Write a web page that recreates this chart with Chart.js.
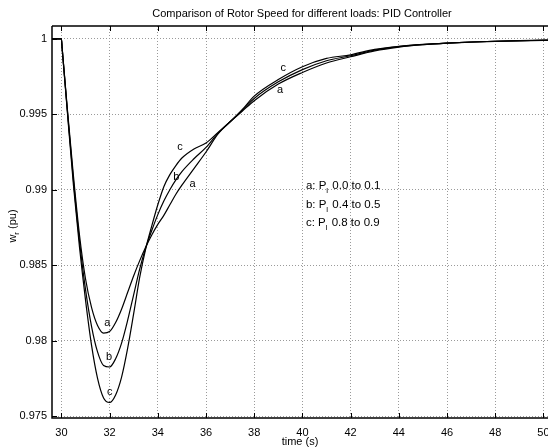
<!DOCTYPE html>
<html>
<head>
<meta charset="utf-8">
<script src="https://cdn.jsdelivr.net/npm/chart.js@4.4.0/dist/chart.umd.min.js"></script>
<style>
  html, body { margin: 0; padding: 0; background: #fff; }
  #wrap { width: 548px; height: 447px; }
</style>
</head>
<body>
<div id="wrap"><canvas id="speedChart" width="548" height="447"></canvas></div>
<script>
// ===== DATI =====
const timeS = [29.6, 30.0, 30.03, 30.25, 30.5, 30.75, 31.0, 31.25, 31.5, 31.75, 32.0,
  32.25, 32.5, 32.75, 33.0, 33.25, 33.5, 33.75, 34.0, 34.25, 34.5, 34.75, 35.0,
  35.5, 36.0, 36.5, 37.0, 37.5, 38.0, 39, 40, 41, 42, 43, 44, 45, 46, 47, 48, 49, 50, 50.5];

// a: Pl 0.0 to 0.1
const loadA = [1, 1, 0.9994, 0.9953, 0.9909, 0.9870, 0.9841, 0.9822, 0.9810, 0.9805, 0.9806,
  0.9812, 0.9821, 0.9832, 0.9843, 0.9853, 0.9862, 0.9870, 0.9877, 0.9883, 0.9890, 0.9897, 0.9903,
  0.9914, 0.9925, 0.9937, 0.9945, 0.9952, 0.9959, 0.9970, 0.99777, 0.9984, 0.99881, 0.9992, 0.99945,
  0.99961, 0.99971, 0.99978, 0.99983, 0.99987, 0.9999, 0.99991];

// b: Pl 0.4 to 0.5
const loadB = [1, 1, 0.9994, 0.9952, 0.9906, 0.9866, 0.9834, 0.98095, 0.97925, 0.97835, 0.97825,
  0.9788, 0.97985, 0.98135, 0.98305, 0.98475, 0.98615, 0.9873, 0.98835, 0.98925, 0.9900, 0.99065, 0.9912,
  0.99205, 0.9928, 0.99375, 0.9945, 0.99525, 0.99605, 0.99715, 0.99796, 0.99855, 0.99888, 0.99925, 0.99948,
  0.99962, 0.99972, 0.99979, 0.99984, 0.99988, 0.9999, 0.99992];

// c: Pl 0.8 to 0.9
const loadC = [1, 1, 0.9994, 0.9951, 0.9903, 0.9862, 0.9827, 0.9797, 0.9775, 0.9762, 0.9759,
  0.9764, 0.9776, 0.9795, 0.9818, 0.9842, 0.9861, 0.9876, 0.9890, 0.9902, 0.9910, 0.9916, 0.9921,
  0.9927, 0.9931, 0.9938, 0.9945, 0.9953, 0.9962, 0.9973, 0.99815, 0.9987, 0.99894, 0.9993, 0.9995,
  0.99963, 0.99972, 0.99979, 0.99984, 0.99988, 0.99991, 0.99992];

const xTicks = [30, 32, 34, 36, 38, 40, 42, 44, 46, 48, 50];
const yTicks = [0.975, 0.98, 0.985, 0.99, 0.995, 1];
const yTickLabels = ["0.975", "0.98", "0.985", "0.99", "0.995", "1"];

const TITLE = "Comparison of Rotor Speed for different loads: PID Controller";
const X_TITLE = "time (s)";

// etichette sulle curve (coordinate nei valori del grafico)
const curveLabels = [
  { text: "c", t: 34.92, v: 0.99283 },
  { text: "b", t: 34.77, v: 0.99086 },
  { text: "a", t: 35.44, v: 0.99036 },
  { text: "a", t: 31.90, v: 0.98118 },
  { text: "b", t: 31.98, v: 0.97893 },
  { text: "c", t: 32.01, v: 0.97661 },
  { text: "c", t: 39.20, v: 0.99807 },
  { text: "a", t: 39.07, v: 0.99659 },
];

// legenda testuale
const legendRows = [
  { key: "a", range: "0.0 to 0.1", v: 0.99025 },
  { key: "b", range: "0.4 to 0.5", v: 0.98902 },
  { key: "c", range: "0.8 to 0.9", v: 0.98780 },
];
const legendT = 40.145;

const FONT = '"Liberation Sans", Arial, Helvetica, sans-serif';

// ===== PLUGIN: cornice, tacche, testi =====
const matlabDecor = {
  id: "matlabDecor",
  afterDraw(chart) {
    const { ctx, chartArea: a, scales } = chart;
    const xs = scales.x;
    const ys = scales.y;

    ctx.save();
    // cornice
    ctx.strokeStyle = "#000";
    ctx.lineWidth = 1.5;
    ctx.beginPath();
    ctx.moveTo(a.left, a.top);
    ctx.lineTo(a.right + 2, a.top);
    ctx.moveTo(a.left, a.top);
    ctx.lineTo(a.left, a.bottom);
    ctx.lineTo(a.right + 2, a.bottom);
    ctx.stroke();

    // tacche verso l'interno
    ctx.lineWidth = 1;
    ctx.beginPath();
    xTicks.forEach((t) => {
      const px = Math.round(xs.getPixelForValue(t)) + 0.5;
      ctx.moveTo(px, a.bottom);
      ctx.lineTo(px, a.bottom - 5);
      ctx.moveTo(px, a.top);
      ctx.lineTo(px, a.top + 5);
    });
    yTicks.forEach((v) => {
      const py = Math.round(ys.getPixelForValue(v)) + 0.5;
      ctx.moveTo(a.left, py);
      ctx.lineTo(a.left + 5, py);
    });
    ctx.stroke();

    ctx.fillStyle = "#000";
    ctx.textBaseline = "middle";

    // titolo
    ctx.font = "11px " + FONT;
    ctx.textAlign = "center";
    ctx.fillText(TITLE, (a.left + a.right) / 2 + 2, 14);

    // etichette a/b/c
    curveLabels.forEach((l) => {
      ctx.fillText(l.text, xs.getPixelForValue(l.t), ys.getPixelForValue(l.v));
    });

    // legenda con pedice
    ctx.textAlign = "left";
    legendRows.forEach((r) => {
      let x = xs.getPixelForValue(legendT);
      const y = ys.getPixelForValue(r.v);
      ctx.font = "11.5px " + FONT;
      const head = r.key + ": P";
      ctx.fillText(head, x, y);
      x += ctx.measureText(head).width;
      ctx.font = "8px " + FONT;
      ctx.fillText("l", x, y + 5);
      x += ctx.measureText("l").width + 1;
      ctx.font = "11.5px " + FONT;
      ctx.fillText(" " + r.range, x, y);
    });

    // titolo asse y: w_r (pu)
    ctx.translate(13, (a.top + a.bottom) / 2 + 4);
    ctx.rotate(-Math.PI / 2);
    ctx.font = "11px " + FONT;
    const wW = ctx.measureText("w").width;
    const restW = ctx.measureText(" (pu)").width;
    ctx.font = "8px " + FONT;
    const rW = ctx.measureText("r").width;
    const x0 = -(wW + rW + restW) / 2;
    ctx.font = "11px " + FONT;
    ctx.fillText("w", x0, 0);
    ctx.font = "8px " + FONT;
    ctx.fillText("r", x0 + wW, 4);
    ctx.font = "11px " + FONT;
    ctx.fillText(" (pu)", x0 + wW + rW, 0);

    ctx.restore();
  },
};

// ===== GRAFICO =====
const makeSeries = (vals) => timeS.map((t, i) => ({ x: t, y: vals[i] }));
const lineStyle = {
  borderColor: "#000",
  borderWidth: 1.2,
  pointRadius: 0,
  fill: false,
  cubicInterpolationMode: "monotone",
};

const ctx = document.getElementById("speedChart").getContext("2d");
new Chart(ctx, {
  type: "line",
  data: {
    datasets: [
      { label: "a", data: makeSeries(loadA), ...lineStyle },
      { label: "b", data: makeSeries(loadB), ...lineStyle },
      { label: "c", data: makeSeries(loadC), ...lineStyle },
    ],
  },
  options: {
    responsive: false,
    animation: false,
    devicePixelRatio: 1,
    layout: { padding: { top: 26, right: 0, bottom: 0, left: 0 } },
    plugins: {
      legend: { display: false },
      tooltip: { enabled: false },
      title: { display: false },
    },
    scales: {
      x: {
        type: "linear",
        min: 29.61,
        max: 50.19,
        afterBuildTicks: (s) => { s.ticks = xTicks.map((v) => ({ value: v })); },
        afterFit: (s) => { s.height = 29; s.paddingLeft = 0; s.paddingRight = 0; },
        ticks: {
          color: "#000",
          padding: 8,
          maxRotation: 0,
          autoSkip: false,
          font: { family: FONT, size: 11 },
          callback: (v) => String(v),
        },
        grid: { color: "#9a9a9a", lineWidth: 1, drawTicks: false },
        border: { display: false, dash: [1, 2] },
        title: {
          display: true,
          text: X_TITLE,
          color: "#000",
          padding: 0,
          font: { family: FONT, size: 11, lineHeight: 1 },
        },
      },
      y: {
        type: "linear",
        min: 0.97487,
        max: 1.00085,
        afterBuildTicks: (s) => { s.ticks = yTicks.map((v) => ({ value: v })); },
        afterFit: (s) => { s.width = 52; s.paddingTop = 0; s.paddingBottom = 0; },
        ticks: {
          color: "#000",
          padding: 5,
          autoSkip: false,
          font: { family: FONT, size: 11 },
          callback: (v, i) => yTickLabels[i],
        },
        grid: { color: "#9a9a9a", lineWidth: 1, drawTicks: false },
        border: { display: false, dash: [1, 2] },
      },
    },
  },
  plugins: [matlabDecor],
});
</script>
</body>
</html>
